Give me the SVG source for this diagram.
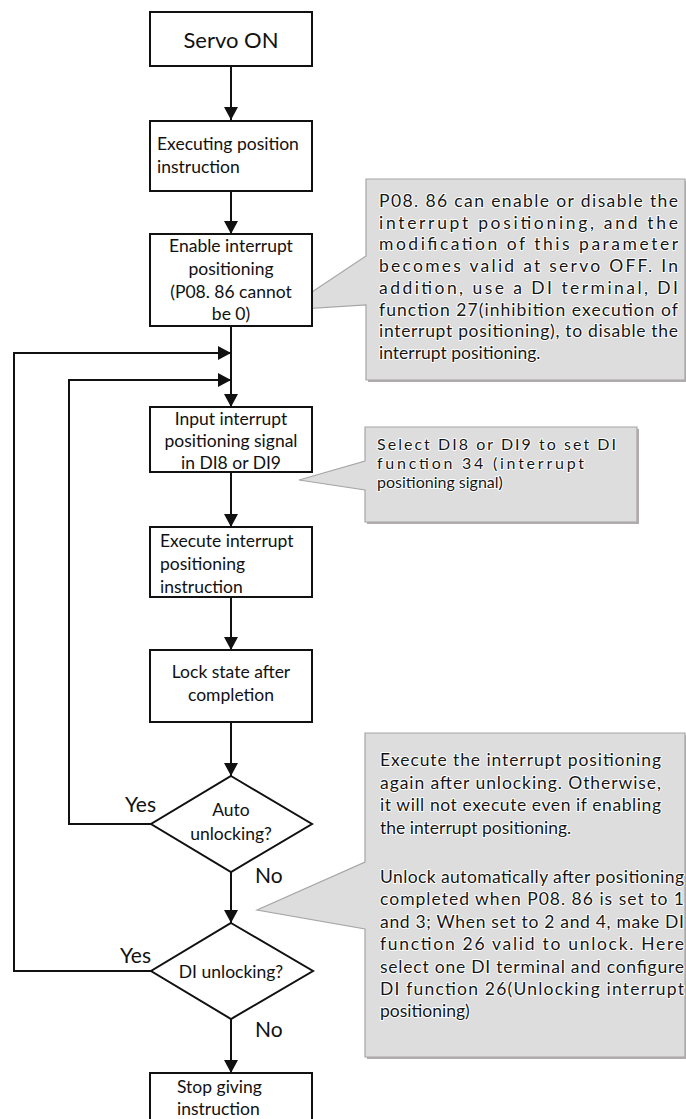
<svg xmlns="http://www.w3.org/2000/svg" width="686" height="1119" viewBox="0 0 686 1119">
<style>
.box{fill:#fff;stroke:#111;stroke-width:2}
.t{font-family:Lato,"Open Sans","Noto Sans",sans-serif;font-size:17.5px;fill:#111}
.c{text-anchor:middle}
.big{font-size:22px}
.lbl{font-family:Lato,"Open Sans","Noto Sans",sans-serif;font-size:21px;fill:#111}
.call{fill:#dcdddc;stroke:#a6a6a6;stroke-width:1.2}
.sh{fill:#b3adb0}
.n{font-family:Lato,"Open Sans","Noto Sans",sans-serif;font-size:17.5px;fill:#151515;stroke:#fff;stroke-width:2;stroke-linejoin:round;paint-order:stroke}
.s{font-size:16px}
.ln{fill:none;stroke:#111;stroke-width:2}
</style>
<defs>
<marker id="ah" markerUnits="userSpaceOnUse" markerWidth="13" markerHeight="14" viewBox="0 0 13 14" refX="13" refY="7" orient="auto">
<path d="M0,0 L13,7 L0,14 Z" fill="#111"/>
</marker>
</defs>

<g id="callouts">
<g id="note1">
<path class="sh" d="M368,181 H687 V382 H368 Z"/>
<path class="call" d="M366,179 H685 V380 H366 V305 L285,310 L366,256 Z"/>
<text class="n" x="379" y="207" textLength="299" lengthAdjust="spacing">P08. 86 can enable or disable the</text>
<text class="n" x="379" y="228.7" textLength="299" lengthAdjust="spacing">interrupt positioning, and the</text>
<text class="n" x="379" y="250.4" textLength="299" lengthAdjust="spacing">modification of this parameter</text>
<text class="n" x="379" y="272" textLength="299" lengthAdjust="spacing">becomes valid at servo OFF. In</text>
<text class="n" x="379" y="293.8" textLength="299" lengthAdjust="spacing">addition, use a DI terminal, DI</text>
<text class="n" x="379" y="315.5" textLength="299" lengthAdjust="spacing">function 27(inhibition execution of</text>
<text class="n" x="379" y="337" textLength="299" lengthAdjust="spacing">interrupt positioning), to disable the</text>
<text class="n" x="379" y="359">interrupt positioning.</text>
</g>
<g id="note2">
<path class="sh" d="M367,429 H639 V524 H367 Z"/>
<path class="call" d="M365,427 H637 V522 H365 V490 L299,480 L365,461 Z"/>
<text class="n s" x="377" y="450" textLength="239" lengthAdjust="spacing">Select DI8 or DI9 to set DI</text>
<text class="n s" x="377" y="469" textLength="207" lengthAdjust="spacing">function 34 (interrupt</text>
<text class="n s" x="377" y="488">positioning signal)</text>
</g>
<g id="note3">
<path class="sh" d="M367,735 H687 V1059 H367 Z"/>
<path class="call" d="M365,733 H685 V1057 H365 V929 L257,910 L365,862 Z"/>
<text class="n" x="380" y="766" textLength="281" lengthAdjust="spacing">Execute the interrupt positioning</text>
<text class="n" x="380" y="788.5" textLength="281" lengthAdjust="spacing">again after unlocking. Otherwise,</text>
<text class="n" x="380" y="811" textLength="281" lengthAdjust="spacing">it will not execute even if enabling</text>
<text class="n" x="380" y="834">the interrupt positioning.</text>
<text class="n" x="380" y="883" textLength="304" lengthAdjust="spacing">Unlock automatically after positioning</text>
<text class="n" x="380" y="905" textLength="304" lengthAdjust="spacing">completed when P08. 86 is set to 1</text>
<text class="n" x="380" y="928" textLength="304" lengthAdjust="spacing">and 3; When set to 2 and 4, make DI</text>
<text class="n" x="380" y="950" textLength="304" lengthAdjust="spacing">function 26 valid to unlock. Here</text>
<text class="n" x="380" y="972.5" textLength="304" lengthAdjust="spacing">select one DI terminal and configure</text>
<text class="n" x="380" y="994.5" textLength="304" lengthAdjust="spacing">DI function 26(Unlocking interrupt</text>
<text class="n" x="380" y="1017">positioning)</text>
</g>
</g>

<g id="connectors">
<line class="ln" x1="231" y1="66" x2="231" y2="120" marker-end="url(#ah)"/>
<line class="ln" x1="231" y1="191" x2="231" y2="234" marker-end="url(#ah)"/>
<line class="ln" x1="231" y1="326" x2="231" y2="407" marker-end="url(#ah)"/>
<polyline class="ln" points="151,971 14,971 14,353 231,353" marker-end="url(#ah)"/>
<polyline class="ln" points="151,824 69,824 69,380 231,380" marker-end="url(#ah)"/>
<line class="ln" x1="231" y1="472" x2="231" y2="527" marker-end="url(#ah)"/>
<line class="ln" x1="231" y1="597" x2="231" y2="650" marker-end="url(#ah)"/>
<line class="ln" x1="231" y1="722" x2="231" y2="776" marker-end="url(#ah)"/>
<line class="ln" x1="231" y1="872" x2="231" y2="923" marker-end="url(#ah)"/>
<line class="ln" x1="231" y1="1019" x2="231" y2="1073" marker-end="url(#ah)"/>
<text class="lbl" x="125" y="812">Yes</text>
<text class="lbl" x="255" y="883">No</text>
<text class="lbl" x="120" y="963">Yes</text>
<text class="lbl" x="255" y="1037">No</text>
</g>

<g id="servo-on">
<rect class="box" x="150" y="12" width="162" height="54"/>
<text class="t c big" x="231" y="48">Servo ON</text>
</g>
<g id="exec-pos">
<rect class="box" x="150" y="121" width="162" height="70"/>
<text class="t" x="157" y="150">Executing position</text>
<text class="t" x="157" y="173">instruction</text>
</g>
<g id="enable-int">
<rect class="box" x="150" y="234" width="162" height="92"/>
<text class="t c" x="231" y="252">Enable interrupt</text>
<text class="t c" x="231" y="275">positioning</text>
<text class="t c" x="231" y="298">(P08. 86 cannot</text>
<text class="t c" x="231" y="320">be 0)</text>
</g>
<g id="input-sig">
<rect class="box" x="150" y="407" width="162" height="65"/>
<text class="t c" x="231" y="425">Input interrupt</text>
<text class="t c" x="231" y="447">positioning signal</text>
<text class="t c" x="231" y="469">in DI8 or DI9</text>
</g>
<g id="exec-int">
<rect class="box" x="150" y="527" width="162" height="70"/>
<text class="t" x="160" y="547">Execute interrupt</text>
<text class="t" x="160" y="570">positioning</text>
<text class="t" x="160" y="593">instruction</text>
</g>
<g id="lock-state">
<rect class="box" x="150" y="650" width="162" height="72"/>
<text class="t c" x="231" y="678">Lock state after</text>
<text class="t c" x="231" y="701">completion</text>
</g>
<g id="auto-unlock">
<polygon class="box" points="231,776 312,824 231,872 151,824"/>
<text class="t c" x="231" y="816">Auto</text>
<text class="t c" x="231" y="840">unlocking?</text>
</g>
<g id="di-unlock">
<polygon class="box" points="231,923 313,971 231,1019 151,971"/>
<text class="t c" x="231" y="978">DI unlocking?</text>
</g>
<g id="stop">
<rect class="box" x="150" y="1073" width="162" height="60"/>
<text class="t" x="177" y="1093">Stop giving</text>
<text class="t" x="177" y="1115">instruction</text>
</g>
</svg>
